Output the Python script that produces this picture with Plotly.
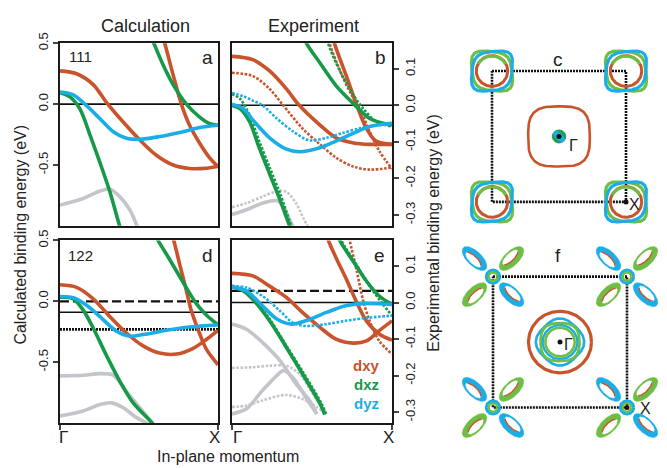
import numpy as np
import plotly.graph_objects as go

W, H = 667, 468

# ---------------- colours ----------------
ORANGE = '#C9532B'
GREEN = '#169A49'
BLUE = '#1BADE6'
GRAY = '#C3C5CA'
FS_GREEN = '#6DBE45'

# ---------------- panel a (111 calculation, eV) ----------------
a_xy1_x = [0, 0.105, 0.21, 0.295, 0.40, 0.505, 0.61, 0.716, 0.82, 0.926, 1.0]
a_xy1_y = [0.273, 0.249, 0.16, 0.013, -0.147, -0.294, -0.42, -0.50, -0.529, -0.527, -0.513]
a_xy2_x = [0.64, 0.663, 0.716, 0.768, 0.82, 0.884, 0.947, 1.0]
a_xy2_y = [0.60, 0.50, 0.24, 0.0, -0.174, -0.321, -0.441, -0.513]
a_xz1_x = [0, 0.063, 0.126, 0.19, 0.253, 0.316, 0.375, 0.39]
a_xz1_y = [0.094, 0.059, -0.04, -0.254, -0.481, -0.722, -0.99, -1.05]
a_xz2_x = [0.575, 0.594, 0.653, 0.716, 0.80, 0.884, 0.947, 1.0]
a_xz2_y = [0.56, 0.50, 0.321, 0.16, 0.0, -0.107, -0.16, -0.174]
a_yz_x = [0, 0.084, 0.168, 0.253, 0.337, 0.42, 0.505, 0.63, 0.758, 0.884, 1.0]
a_yz_y = [0.099, 0.075, -0.013, -0.12, -0.227, -0.28, -0.289, -0.267, -0.233, -0.193, -0.174]
a_gr_x = [0, 0.147, 0.253, 0.316, 0.379, 0.442, 0.484, 0.495]
a_gr_y = [-0.829, -0.775, -0.714, -0.70, -0.762, -0.869, -0.99, -1.03]

# ---------------- panel b (111 experiment, eV) ----------------
b_xy1_x = [0, 0.13, 0.235, 0.34, 0.42, 0.55, 0.65, 0.76, 0.86, 1.0]
b_xy1_y = [0.134, 0.125, 0.094, 0.045, 0.0, -0.054, -0.089, -0.103, -0.107, -0.107]
b_xy2_x = [0.625, 0.64, 0.715, 0.78, 0.84, 0.90, 1.0]
b_xy2_y = [0.20, 0.17, 0.08, 0.0, -0.063, -0.098, -0.107]
b_xy1d_x = [0, 0.13, 0.235, 0.32, 0.44, 0.55, 0.65, 0.76, 0.86, 1.0]
b_xy1d_y = [0.089, 0.08, 0.045, 0.0, -0.063, -0.107, -0.143, -0.168, -0.176, -0.17]
b_xy2d_x = [0.60, 0.61, 0.69, 0.76, 0.80, 0.86, 0.92, 1.0]
b_xy2d_y = [0.20, 0.17, 0.08, 0.018, -0.01, -0.071, -0.125, -0.174]
b_xz1_x = [0, 0.05, 0.11, 0.17, 0.235, 0.30, 0.36, 0.37]
b_xz1_y = [0.0, -0.009, -0.045, -0.116, -0.1875, -0.259, -0.33, -0.34]
b_xz1d_x = [0, 0.05, 0.11, 0.17, 0.235, 0.30, 0.37, 0.38]
b_xz1d_y = [0.031, 0.018, -0.027, -0.098, -0.17, -0.241, -0.33, -0.34]
b_xz2_x = [0.45, 0.465, 0.55, 0.65, 0.76, 0.86, 1.0]
b_xz2_y = [0.19, 0.17, 0.116, 0.054, 0.004, -0.036, -0.054]
b_xz2d_x = [0.59, 0.60, 0.67, 0.76, 0.82, 0.90, 1.0]
b_xz2d_y = [0.19, 0.17, 0.098, 0.027, -0.009, -0.045, -0.058]
b_yz_x = [0, 0.07, 0.13, 0.235, 0.34, 0.42, 0.55, 0.65, 0.76, 0.86, 1.0]
b_yz_y = [0.003, -0.009, -0.04, -0.089, -0.12, -0.127, -0.116, -0.098, -0.076, -0.058, -0.049]
b_yzd_x = [0, 0.07, 0.13, 0.19, 0.28, 0.38, 0.485, 0.59, 0.69, 0.80, 0.90, 1.0]
b_yzd_y = [0.034, 0.025, 0.013, 0.0, -0.036, -0.071, -0.096, -0.089, -0.076, -0.063, -0.055, -0.052]
b_gr_x = [0, 0.09, 0.19, 0.28, 0.32, 0.36, 0.39]
b_gr_y = [-0.299, -0.286, -0.268, -0.261, -0.277, -0.3125, -0.34]
b_grd_x = [0, 0.09, 0.19, 0.29, 0.34, 0.40, 0.45, 0.485]
b_grd_y = [-0.279, -0.268, -0.25, -0.234, -0.237, -0.268, -0.3125, -0.34]

# ---------------- panel d (122 calculation, eV) ----------------
d_xy1_x = [0, 0.105, 0.21, 0.316, 0.42, 0.526, 0.63, 0.737, 0.84, 0.926, 1.0]
d_xy1_y = [0.136, 0.115, 0.021, -0.126, -0.26, -0.366, -0.425, -0.433, -0.388, -0.313, -0.238]
d_xy2_x = [0.705, 0.72, 0.758, 0.80, 0.83, 0.874, 0.926, 1.0]
d_xy2_y = [0.56, 0.50, 0.302, 0.088, -0.072, -0.233, -0.393, -0.521]
d_xz1_x = [0, 0.084, 0.147, 0.21, 0.295, 0.38, 0.463, 0.58, 0.60]
d_xz1_y = [0.035, 0.021, -0.072, -0.219, -0.447, -0.66, -0.834, -0.995, -1.03]
d_xz2_x = [0.60, 0.621, 0.695, 0.78, 0.863, 0.926, 1.0]
d_xz2_y = [0.56, 0.50, 0.342, 0.155, -0.019, -0.112, -0.193]
d_yz_x = [0, 0.084, 0.168, 0.253, 0.358, 0.442, 0.526, 0.674, 0.82, 1.0]
d_yz_y = [0.04, 0.029, -0.032, -0.126, -0.246, -0.286, -0.273, -0.238, -0.211, -0.193]
d_gr1_x = [0, 0.147, 0.253, 0.337, 0.42, 0.505, 0.58, 0.60]
d_gr1_y = [-0.612, -0.607, -0.594, -0.607, -0.74, -0.874, -0.995, -1.03]
d_gr2_x = [0, 0.147, 0.253, 0.326, 0.40, 0.484, 0.547, 0.56]
d_gr2_y = [-0.941, -0.90, -0.848, -0.834, -0.874, -0.955, -1.0, -1.02]
d_levels = [0.0, -0.09, -0.23]

# ---------------- panel e (122 experiment, eV) ----------------
e_xy1_x = [0, 0.13, 0.235, 0.34, 0.44, 0.55, 0.65, 0.76, 0.84, 0.92, 1.0]
e_xy1_y = [0.08, 0.073, 0.045, 0.014, -0.027, -0.068, -0.10, -0.111, -0.105, -0.077, -0.05]
e_xy2_x = [0.585, 0.60, 0.65, 0.715, 0.78, 0.84, 0.92, 1.0]
e_xy2_y = [0.20, 0.173, 0.123, 0.064, 0.0, -0.05, -0.086, -0.103]
e_xyd_x = [0.728, 0.735, 0.78, 0.82, 0.86, 0.92, 1.0]
e_xyd_y = [0.20, 0.173, 0.086, 0.005, -0.05, -0.105, -0.141]
e_xz1_x = [0, 0.07, 0.13, 0.235, 0.34, 0.44, 0.55, 0.58]
e_xz1_y = [0.043, 0.032, 0.009, -0.05, -0.123, -0.195, -0.277, -0.307]
e_xz1d_x = [0, 0.07, 0.13, 0.235, 0.34, 0.45, 0.56, 0.59]
e_xz1d_y = [0.046, 0.036, 0.013, -0.045, -0.118, -0.195, -0.277, -0.307]
e_xz2_x = [0.655, 0.67, 0.756, 0.84, 0.92, 1.0]
e_xz2_y = [0.20, 0.173, 0.114, 0.059, 0.018, -0.005]
e_xz2d_x = [0.665, 0.68, 0.777, 0.86, 0.944, 1.0]
e_xz2d_y = [0.20, 0.173, 0.105, 0.045, -0.005, -0.036]
e_yz_x = [0, 0.09, 0.19, 0.28, 0.37, 0.46, 0.59, 0.71, 0.82, 1.0]
e_yz_y = [0.043, 0.032, -0.009, -0.045, -0.059, -0.05, -0.027, -0.009, -0.003, -0.005]
e_yzd_x = [0, 0.09, 0.19, 0.30, 0.38, 0.46, 0.59, 0.71, 0.86, 1.0]
e_yzd_y = [0.045, 0.041, 0.018, -0.023, -0.055, -0.064, -0.059, -0.05, -0.041, -0.036]
e_gr1_x = [0, 0.09, 0.19, 0.30, 0.40, 0.485, 0.53]
e_gr1_y = [-0.059, -0.073, -0.109, -0.159, -0.223, -0.268, -0.305]
e_gr2_x = [0, 0.09, 0.19, 0.28, 0.32, 0.38, 0.46, 0.53]
e_gr2_y = [-0.305, -0.291, -0.241, -0.20, -0.186, -0.205, -0.259, -0.305]
e_grd1_x = [0, 0.13, 0.235, 0.34, 0.42, 0.506, 0.59]
e_grd1_y = [-0.179, -0.177, -0.173, -0.173, -0.195, -0.25, -0.305]
e_grd2_x = [0, 0.09, 0.19, 0.34, 0.44, 0.53, 0.59]
e_grd2_y = [-0.286, -0.282, -0.268, -0.253, -0.264, -0.286, -0.305]
e_levels = [0.032, 0.0]

# ---------------- momentum tick labels ----------------
k_labels = ['Γ', 'X']

# ---------------- Fermi surface parameters (BZ units, X at corners) ----------------
corners = [(-1, 1), (1, 1), (-1, -1), (1, -1)]
c_pocket_size = 0.30
c_pocket_inner = 0.235
c_center_size = 0.46
c_center_dot = 0.10
f_corner_ring = [0.10, 0.065]
f_petal_dist = 0.39
f_petal_axes = [0.235, 0.11]
f_center_orange = 0.47
f_center_blue = [0.33, 0.26]
f_center_green = [0.29, 0.22]

fig = go.Figure()


def band(xs, ys, color, n, dotted=False):
    ax = '' if n == 1 else str(n)
    if dotted:
        line = dict(color=color, width=2.6, shape='spline', smoothing=0.9, dash='2.6px,1.6px')
    else:
        line = dict(color=color, width=3.6, shape='spline', smoothing=0.9)
    fig.add_trace(go.Scatter(x=xs, y=ys, mode='lines', line=line,
                             xaxis='x' + ax, yaxis='y' + ax,
                             hoverinfo='skip', showlegend=False))


# panel a -> axis 1
band(a_gr_x, a_gr_y, GRAY, 1)
band(a_xy1_x, a_xy1_y, ORANGE, 1)
band(a_xy2_x, a_xy2_y, ORANGE, 1)
band(a_xz1_x, a_xz1_y, GREEN, 1)
band(a_xz2_x, a_xz2_y, GREEN, 1)
band(a_yz_x, a_yz_y, BLUE, 1)

# panel b -> axis 2
band(b_gr_x, b_gr_y, GRAY, 2)
band(b_grd_x, b_grd_y, GRAY, 2, True)
band(b_xy1_x, b_xy1_y, ORANGE, 2)
band(b_xy2_x, b_xy2_y, ORANGE, 2)
band(b_xy1d_x, b_xy1d_y, ORANGE, 2, True)
band(b_xy2d_x, b_xy2d_y, ORANGE, 2, True)
band(b_xz1_x, b_xz1_y, GREEN, 2)
band(b_xz1d_x, b_xz1d_y, GREEN, 2, True)
band(b_xz2_x, b_xz2_y, GREEN, 2)
band(b_xz2d_x, b_xz2d_y, GREEN, 2, True)
band(b_yz_x, b_yz_y, BLUE, 2)
band(b_yzd_x, b_yzd_y, BLUE, 2, True)

# panel d -> axis 3
band(d_gr1_x, d_gr1_y, GRAY, 3)
band(d_gr2_x, d_gr2_y, GRAY, 3)
band(d_xy1_x, d_xy1_y, ORANGE, 3)
band(d_xy2_x, d_xy2_y, ORANGE, 3)
band(d_xz1_x, d_xz1_y, GREEN, 3)
band(d_xz2_x, d_xz2_y, GREEN, 3)
band(d_yz_x, d_yz_y, BLUE, 3)

# panel e -> axis 4
band(e_gr1_x, e_gr1_y, GRAY, 4)
band(e_gr2_x, e_gr2_y, GRAY, 4)
band(e_grd1_x, e_grd1_y, GRAY, 4, True)
band(e_grd2_x, e_grd2_y, GRAY, 4, True)
band(e_xy1_x, e_xy1_y, ORANGE, 4)
band(e_xy2_x, e_xy2_y, ORANGE, 4)
band(e_xyd_x, e_xyd_y, ORANGE, 4, True)
band(e_xz1_x, e_xz1_y, GREEN, 4)
band(e_xz1d_x, e_xz1d_y, GREEN, 4, True)
band(e_xz2_x, e_xz2_y, GREEN, 4)
band(e_xz2d_x, e_xz2d_y, GREEN, 4, True)
band(e_yz_x, e_yz_y, BLUE, 4)
band(e_yzd_x, e_yzd_y, BLUE, 4, True)


# ---------------- Fermi surface helpers ----------------
def superellipse(s, n, cx=0.0, cy=0.0, rot=0.0, stretch=0.0, sdir=0.0, npts=240):
    t = np.linspace(0, 2 * np.pi, npts)
    x = s * np.sign(np.cos(t)) * np.abs(np.cos(t)) ** (2.0 / n)
    y = s * np.sign(np.sin(t)) * np.abs(np.sin(t)) ** (2.0 / n)
    xr = x * np.cos(rot) - y * np.sin(rot)
    yr = x * np.sin(rot) + y * np.cos(rot)
    ux, uy = np.cos(sdir), np.sin(sdir)
    p = xr * ux + yr * uy
    q = -xr * uy + yr * ux
    p = p * (1 + stretch)
    q = q * (1 - stretch)
    xs = p * ux - q * uy
    ys = p * uy + q * ux
    return xs + cx, ys + cy


def ellipse(a, b, cx, cy, ang, t0=0.0, t1=2 * np.pi, npts=120):
    t = np.linspace(t0, t1, npts)
    x = a * np.cos(t)
    y = b * np.sin(t)
    return (cx + x * np.cos(ang) - y * np.sin(ang),
            cy + x * np.sin(ang) + y * np.cos(ang))


def fs_line(xs, ys, color, n, width=3.0, fill=None, dash=None):
    ax = str(n)
    kw = {}
    if fill:
        kw = dict(fill='toself', fillcolor=fill)
    fig.add_trace(go.Scatter(x=xs, y=ys, mode='lines',
                             line=dict(color=color, width=width, dash=dash),
                             xaxis='x' + ax, yaxis='y' + ax,
                             hoverinfo='skip', showlegend=False, **kw))


def bz(n):
    fs_line([-1, 1, 1, -1, -1], [1, 1, -1, -1, 1], '#111111', n, width=2.6, dash='2px,1px')


# panel c -> axis 5
bz(5)
for (cx, cy) in corners:
    xs, ys = ellipse(c_pocket_inner, c_pocket_inner, cx, cy, 0)
    fs_line(xs, ys, ORANGE, 5, 3.0)
    xs, ys = ellipse(c_pocket_inner * 0.98, c_pocket_inner * 0.98, cx, cy, 0, np.pi * 0.15, np.pi * 0.85)
    fs_line(xs, ys, FS_GREEN, 5, 3.0)
    xs, ys = superellipse(c_pocket_size, 3.4, cx, cy, 0, 0.09, 3 * np.pi / 4)
    fs_line(xs, ys, FS_GREEN, 5, 3.2)
    xs, ys = superellipse(c_pocket_size, 3.4, cx, cy, 0, 0.09, np.pi / 4)
    fs_line(xs, ys, BLUE, 5, 3.2)
xs, ys = superellipse(c_center_size, 3.2)
fs_line(xs, ys, ORANGE, 5, 2.6)
xs, ys = ellipse(c_center_dot, c_center_dot, 0, 0, 0)
fs_line(xs, ys, '#1E9E4C', 5, 1, fill='#1E9E4C')
xs, ys = ellipse(c_center_dot, c_center_dot * 0.5, 0, 0, -np.pi / 4)
fs_line(xs, ys, BLUE, 5, 1, fill=BLUE)

# panel f -> axis 6
bz(6)
for (cx, cy) in corners:
    for (sx, sy) in [(-1, 1), (1, -1), (1, 1), (-1, -1)]:
        col = BLUE if sx * sy < 0 else FS_GREEN
        ang = np.arctan2(sy, sx)
        pcx = cx + f_petal_dist * sx / np.sqrt(2)
        pcy = cy + f_petal_dist * sy / np.sqrt(2)
        xs, ys = ellipse(f_petal_axes[0], f_petal_axes[1], pcx, pcy, ang)
        fs_line(xs, ys, col, 6, 0.5, fill=col)
        ox = -0.025 * np.sin(ang)
        oy = 0.025 * np.cos(ang)
        xs, ys = ellipse(f_petal_axes[0] * 0.64, f_petal_axes[1] * 0.52, pcx + ox, pcy + oy, ang)
        fs_line(xs, ys, 'white', 6, 0.5, fill='white')
        xs, ys = ellipse(f_petal_axes[0] * 0.64, f_petal_axes[1] * 0.52, pcx + ox, pcy + oy, ang,
                         np.pi * 1.1, np.pi * 1.9)
        fs_line(xs, ys, ORANGE, 6, 1.4)
    xs, ys = ellipse(f_corner_ring[0], f_corner_ring[0], cx, cy, 0)
    fs_line(xs, ys, BLUE, 6, 3.0)
    xs, ys = ellipse(f_corner_ring[1], f_corner_ring[1], cx, cy, 0)
    fs_line(xs, ys, FS_GREEN, 6, 2.2)
xs, ys = ellipse(f_center_orange, f_center_orange, 0, 0, 0)
fs_line(xs, ys, ORANGE, 6, 3.2)
xs, ys = superellipse(f_center_blue[0], 2.7, rot=np.pi / 4)
fs_line(xs, ys, BLUE, 6, 2.6)
xs, ys = ellipse(f_center_blue[1], f_center_blue[1], 0, 0, 0)
fs_line(xs, ys, BLUE, 6, 2.4)
xs, ys = superellipse(f_center_green[0], 2.7)
fs_line(xs, ys, FS_GREEN, 6, 2.8)
xs, ys = ellipse(f_center_green[1], f_center_green[1], 0, 0, 0)
fs_line(xs, ys, FS_GREEN, 6, 2.6)

for n in (5, 6):
    fig.add_trace(go.Scatter(x=[0, 1], y=[0, -1], mode='markers',
                             marker=dict(color='#111111', size=5),
                             xaxis='x' + str(n), yaxis='y' + str(n),
                             hoverinfo='skip', showlegend=False))


# ---------------- layout ----------------
def dx(a, b):
    return [a / W, b / W]


def dy(top, bottom):
    return [1 - bottom / H, 1 - top / H]


FONT = 'Liberation Sans, Arial, sans-serif'
frame = dict(showline=True, linecolor='#1a1a1a', linewidth=2, mirror=True,
             showgrid=False, zeroline=False)

calc_ticks = dict(tickvals=[-0.5, 0.0, 0.5], ticktext=['-0.5', '0.0', '0.5'])
exp_ticks = dict(tickvals=[-0.3, -0.2, -0.1, 0.0, 0.1],
                 ticktext=['-0.3', '-0.2', '-0.1', '0.0', '0.1'])
k_ticks = dict(tickvals=[0, 1], ticktext=['', ''])

layout = dict(
    width=W, height=H, margin=dict(l=0, r=0, t=0, b=0),
    paper_bgcolor='white', plot_bgcolor='rgba(0,0,0,0)',
    font=dict(family=FONT, color='#222222'),
    showlegend=False,
)
layout['xaxis'] = dict(domain=dx(60, 218), range=[0, 1], anchor='y', showticklabels=False, ticks='', **frame)
layout['yaxis'] = dict(domain=dy(33, 220), range=[-1.0, 0.5], anchor='x', side='left', ticks='outside',
                       ticklen=5, tickwidth=1.5, tickangle=-90, tickfont=dict(size=13), **calc_ticks, **frame)
layout['xaxis2'] = dict(domain=dx(232, 392), range=[0, 1], anchor='y2', showticklabels=False, ticks='', **frame)
layout['yaxis2'] = dict(domain=dy(33, 220), range=[-0.33, 0.17], anchor='x2', side='right', ticks='outside',
                        ticklen=5, tickwidth=1.5, tickangle=-90, tickfont=dict(size=13), **exp_ticks, **frame)
layout['xaxis3'] = dict(domain=dx(60, 218), range=[0, 1], anchor='y3', ticks='outside', ticklen=5, tickwidth=1.5,
                        **k_ticks, **frame)
layout['yaxis3'] = dict(domain=dy(235, 422), range=[-1.0, 0.5], anchor='x3', side='left', ticks='outside',
                        ticklen=5, tickwidth=1.5, tickangle=-90, tickfont=dict(size=13), **calc_ticks, **frame)
layout['xaxis4'] = dict(domain=dx(232, 392), range=[0, 1], anchor='y4', ticks='outside', ticklen=5, tickwidth=1.5,
                        **k_ticks, **frame)
layout['yaxis4'] = dict(domain=dy(235, 422), range=[-0.33, 0.17], anchor='x4', side='right', ticks='outside',
                        ticklen=5, tickwidth=1.5, tickangle=-90, tickfont=dict(size=13), **exp_ticks, **frame)
hidden = dict(visible=False, showgrid=False, zeroline=False)
layout['xaxis5'] = dict(domain=dx(458.5, 659.5), range=[-1.5, 1.5], anchor='y5', **hidden)
layout['yaxis5'] = dict(domain=dy(28, 229), range=[-1.5, 1.5], anchor='x5', **hidden)
layout['xaxis6'] = dict(domain=dx(459.5, 660.5), range=[-1.5, 1.5], anchor='y6', **hidden)
layout['yaxis6'] = dict(domain=dy(238.5, 439.5), range=[-1.5, 1.5], anchor='x6', **hidden)

fig.update_layout(**layout)

shapes = []
shapes.append(dict(type='line', xref='x', yref='y', x0=0, x1=1, y0=0, y1=0,
                   line=dict(color='#111111', width=1.6), layer='below'))
shapes.append(dict(type='line', xref='x2', yref='y2', x0=0, x1=1, y0=0, y1=0,
                   line=dict(color='#111111', width=1.6), layer='below'))
d_styles = [dict(width=2.4, dash='9px,4px'), dict(width=1.6), dict(width=2.6, dash='2px,1px')]
for lv, st in zip(d_levels, d_styles):
    shapes.append(dict(type='line', xref='x3', yref='y3', x0=0, x1=1, y0=lv, y1=lv,
                       line=dict(color='#111111', **st), layer='below'))
e_styles = [dict(width=2.4, dash='9px,4px'), dict(width=1.6)]
for lv, st in zip(e_levels, e_styles):
    shapes.append(dict(type='line', xref='x4', yref='y4', x0=0, x1=1, y0=lv, y1=lv,
                       line=dict(color='#111111', **st), layer='below'))
fig.update_layout(shapes=shapes)


def txt(t, x, y, size, color='#222222', angle=0, bold=False):
    return dict(text=('<b>%s</b>' % t) if bold else t, x=x / W, y=1 - y / H, xref='paper', yref='paper',
                showarrow=False, textangle=angle, xanchor='center', yanchor='middle',
                font=dict(size=size, color=color, family=FONT))


ann = [
    txt('Calculation', 145, 15, 18),
    txt('Experiment', 313, 15, 18),
    txt('Calculated binding energy (eV)', 21, 229, 16, angle=-90),
    txt('Experimental binding energy (eV)', 434, 228, 16, angle=-90),
    txt('In-plane momentum', 228, 456, 16),
    txt('111', 80, 47, 15), txt('122', 80, 250, 15),
    txt('a', 207, 48, 19), txt('b', 380, 48, 19), txt('c', 558, 50, 19),
    txt('d', 207, 250, 19), txt('e', 379, 250, 19), txt('f', 558, 250, 19),
    txt('Γ', 573, 138, 16), txt('X', 634, 198, 16),
    txt('Γ', 568, 342, 16), txt('X', 645, 407, 16),
    txt(k_labels[0], 63, 437, 17), txt(k_labels[1], 214, 437, 17),
    txt(k_labels[0], 237, 437, 17), txt(k_labels[1], 388, 437, 17),
    txt('dxy', 366, 363, 15, ORANGE, bold=True),
    txt('dxz', 366, 383, 15, GREEN, bold=True),
    txt('dyz', 366, 402, 15, BLUE, bold=True),
]
fig.update_layout(annotations=ann)

fig.write_html('out.html', config={'displayModeBar': False})

# remove default page margins so the figure sits at the window origin
with open('out.html', 'r', encoding='utf-8') as fh:
    html = fh.read()
html = html.replace('<head>', '<head><style>html,body{margin:0;padding:0;overflow:hidden;}</style>', 1)
with open('out.html', 'w', encoding='utf-8') as fh:
    fh.write(html)
